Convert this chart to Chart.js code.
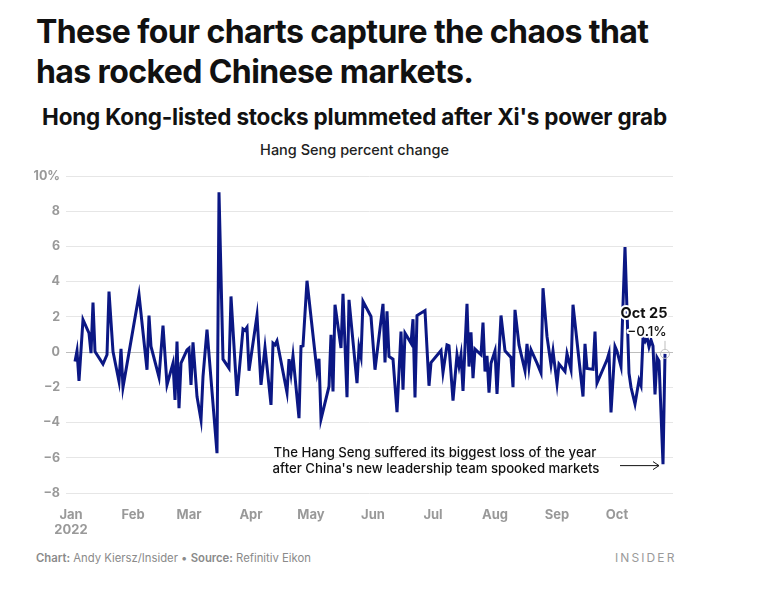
<!DOCTYPE html>
<html>
<head>
<meta charset="utf-8">
<script src="https://cdn.jsdelivr.net/npm/chart.js@4.4.1/dist/chart.umd.min.js"></script>
<style>
  html, body { margin: 0; padding: 0; background: #fff; }
  body { width: 759px; height: 594px; position: relative; overflow: hidden; font-family: Inter, "Noto Sans", sans-serif; }
  .title { position: absolute; left: 36px; top: 12px; font-size: 32px; font-weight: 700; line-height: 40px; letter-spacing: -0.6px; color: #111; }
  .subtitle { position: absolute; left: 0; width: 709px; top: 103px; text-align: center; font-size: 22.5px; font-weight: 700; letter-spacing: -0.2px; color: #111; }
  .label { position: absolute; left: 0; width: 709px; top: 141px; text-align: center; font-size: 14.5px; font-weight: 500; color: #222; }
  .source { position: absolute; left: 36px; top: 551px; font-size: 11.3px; color: #8a8a8a; }
  .source b { font-weight: 600; }
  .brand { position: absolute; left: 615px; top: 550px; font-size: 12px; letter-spacing: 2.1px; color: #9a9a9a; }
  #wrap { position: absolute; left: 0; top: 160px; width: 759px; height: 380px; }
</style>
</head>
<body>
<div class="title">These four charts capture the chaos that<br>has rocked Chinese markets.</div>
<div class="subtitle">Hong Kong-listed stocks plummeted after Xi's power grab</div>
<div class="label">Hang Seng percent change</div>
<div id="wrap"><canvas id="myChart" width="759" height="380"></canvas></div>
<div class="source"><b>Chart:</b> Andy Kiersz/Insider &bull; <b>Source:</b> Refinitiv Eikon</div>
<div class="brand">INSIDER</div>

<script>
// day of 2022 (Jan 1 = 0) for each turning point of the line
const days = [
  2, 3, 4, 6, 9, 10, 11, 12, 16, 18, 19, 21, 24, 25, 26, 34, 38, 39, 40, 44,
  46, 48, 51, 52, 53, 54, 55, 58, 59, 60, 61, 63, 65, 66, 68, 73, 74, 76, 79, 80,
  83, 86, 87, 88, 89, 93, 95, 97, 100, 101, 102, 103, 108, 109, 110, 111, 114, 115, 116, 118,
  123, 124, 125, 129, 130, 131, 132, 135, 136, 138, 139, 143, 144, 145, 146, 150, 152, 156, 157, 158,
  159, 161, 163, 165, 166, 167, 170, 171, 172, 173, 177, 179, 180, 185, 186, 188, 189, 191, 193, 194,
  195, 196, 198, 199, 200, 201, 202, 205, 206, 207, 208, 209, 210, 212, 213, 215, 217, 220, 221, 222,
  224, 227, 228, 229, 230, 233, 235, 236, 238, 240, 241, 243, 244, 247, 248, 250, 251, 256, 257, 258,
  261, 262, 263, 268, 269, 270, 272, 273, 275, 276, 277, 279, 280, 282, 284, 285, 286, 287, 288, 289,
  290, 291, 292, 293, 294, 296, 297
];

// Hang Seng daily percent change
const pctChange = [
  -0.53, 0.07, -1.63, 1.84, 1.08, -0.06, 2.82, 0.03, -0.68, -0.15, 3.44, 0.03, -1.67, 0.19, -2.0, 3.26, -1.0, 2.08, 0.32, -1.42,
  1.51, -1.86, -0.63, -2.71, 0.6, -3.18, -0.63, 0.13, 0.23, -1.86, 0.55, -2.52, -3.85, -1.39, 1.27, -5.74, 9.07, -0.4, -0.91, 3.16,
  -2.48, 1.31, 1.23, 1.4, -1.06, 2.08, -1.86, 0.26, -3.0, 0.51, 0.41, 0.64, -2.29, -0.4, -1.23, -0.21, -3.75, 0.32, 0.35, 4.05,
  -1.1, -0.38, -3.81, -1.95, 0.98, -2.24, 2.69, 0.23, 3.31, -2.56, 2.97, -1.76, 0.28, -0.25, 2.88, 2.02, -1.0, 2.74, -0.59, 2.31,
  -0.25, -0.4, -3.41, 1.17, -2.14, 1.08, 0.51, 1.87, -2.58, 2.08, 2.36, -1.91, -0.59, 0.09, -1.16, 0.41, 0.36, -2.75, -0.15, -0.8,
  -0.15, -2.2, 2.74, -0.82, 1.12, -1.48, 0.17, -0.15, 1.68, -1.1, -0.21, -2.3, -0.63, 0.07, -2.37, 2.08, 0.07, -0.3, -1.99, 2.4,
  0.41, -1.06, 0.47, -0.82, 0.13, -0.63, -1.19, 3.63, 0.89, -0.72, 0.07, -1.8, -0.68, -1.1, -0.09, -1.0, 2.69, -2.52, 0.47, -0.93,
  -0.98, 1.17, -1.76, -0.44, -0.06, -3.43, 0.32, 0.05, -0.82, 2.7, 5.96, -1.2, -2.0, -2.95, -1.6, -1.9, 0.8, 0.6, 0.85, 0.3,
  0.7, 0.35, -2.4, -0.3, -0.5, -6.36, -0.1
];

const monthStarts = [0, 31, 59, 90, 120, 151, 181, 212, 243, 273];
const monthLabels = [['Jan', '2022'], 'Feb', 'Mar', 'Apr', 'May', 'Jun', 'Jul', 'Aug', 'Sep', 'Oct'];

const lastLabel = ['Oct 25', '\u22120.1%'];
const lossNote = ['The Hang Seng suffered its biggest loss of the year', "after China's new leadership team spooked markets"];

const last = pctChange.length - 1;

const notes = {
  id: 'notes',
  afterDatasetsDraw(chart) {
    const ctx = chart.ctx;
    const xs = chart.scales.x, ys = chart.scales.y;

    // biggest loss note + arrow
    const iMin = pctChange.indexOf(Math.min(...pctChange));
    const mx = xs.getPixelForValue(days[iMin]);
    const my = ys.getPixelForValue(pctChange[iMin]);
    ctx.save();
    ctx.fillStyle = '#111';
    ctx.font = '500 13.2px Inter, "Noto Sans", sans-serif';
    ctx.textAlign = 'center';
    ctx.textBaseline = 'middle';
    ctx.fillText(lossNote[0], mx - 228, my - 11);
    ctx.fillText(lossNote[1], mx - 227, my + 5);
    ctx.strokeStyle = '#111';
    ctx.lineWidth = 1;
    ctx.beginPath();
    ctx.moveTo(mx - 43, my + 1.5);
    ctx.lineTo(mx - 4, my + 1.5);
    ctx.moveTo(mx - 10, my - 2.5);
    ctx.lineTo(mx - 4, my + 1.5);
    ctx.lineTo(mx - 10, my + 5.5);
    ctx.stroke();

    // last value label
    const lx = xs.getPixelForValue(days[last]);
    const ly = ys.getPixelForValue(pctChange[last]);
    ctx.strokeStyle = '#bdbdbd';
    ctx.beginPath();
    ctx.moveTo(lx, ly - 13);
    ctx.lineTo(lx, ly - 4.5);
    ctx.stroke();
    ctx.lineJoin = 'round';
    ctx.strokeStyle = '#fff';
    ctx.lineWidth = 4;
    ctx.fillStyle = '#111';
    ctx.font = '700 14.5px Inter, "Noto Sans", sans-serif';
    ctx.strokeText(lastLabel[0], lx - 21, ly - 40);
    ctx.fillText(lastLabel[0], lx - 21, ly - 40);
    ctx.font = '500 13.5px Inter, "Noto Sans", sans-serif';
    ctx.strokeText(lastLabel[1], lx - 18, ly - 22);
    ctx.fillText(lastLabel[1], lx - 18, ly - 22);
    ctx.restore();
  }
};

new Chart(document.getElementById('myChart'), {
  type: 'line',
  data: {
    datasets: [{
      data: days.map((d, i) => ({ x: d, y: pctChange[i] })),
      borderColor: '#0b1784',
      borderWidth: 3,
      tension: 0,
      pointRadius: ctx => ctx.dataIndex === last ? 4.5 : 0,
      pointBorderColor: '#c4c4c4',
      pointBorderWidth: 1,
      pointBackgroundColor: 'rgba(255,255,255,0)',
      pointHoverRadius: 0
    }]
  },
  options: {
    responsive: false,
    devicePixelRatio: 1,
    animation: false,
    events: [],
    layout: { padding: { left: 0, right: 86, top: 16, bottom: 0 } },
    plugins: { legend: { display: false }, tooltip: { enabled: false } },
    scales: {
      x: {
        type: 'linear',
        min: -2.5,
        max: 301,
        afterFit: s => { s.height = 47; },
        afterBuildTicks: s => { s.ticks = monthStarts.map(v => ({ value: v })); },
        grid: { display: false },
        border: { display: false },
        ticks: {
          autoSkip: false,
          maxRotation: 0,
          padding: 6,
          color: '#999',
          font: { family: 'Inter', size: 13, weight: '700', lineHeight: 1.2 },
          callback: (v, i) => monthLabels[i]
        }
      },
      y: {
        min: -8,
        max: 10,
        afterFit: s => { s.width = 66; },
        grid: {
          drawTicks: false,
          color: ctx => ctx.tick && ctx.tick.value === 0 ? '#bdbdbd' : '#e6e6e6'
        },
        border: { display: false },
        ticks: {
          stepSize: 2,
          padding: 6,
          color: '#999',
          font: { family: 'Inter', size: 12.5, weight: '700' },
          callback: v => v === 10 ? '10%' : (v < 0 ? '\u2212' + Math.abs(v) : String(v))
        }
      }
    }
  },
  plugins: [notes]
});
</script>
</body>
</html>
